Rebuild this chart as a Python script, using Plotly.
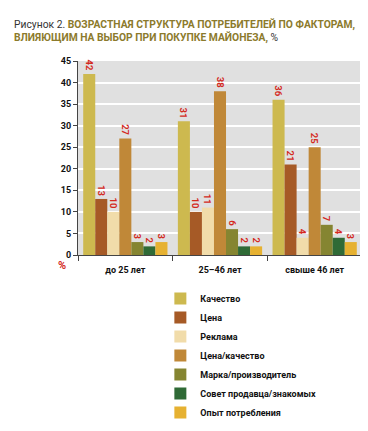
import plotly.graph_objects as go

categories = ["до 25 лет", "25–46 лет", "свыше 46 лет"]
factors = ["Качество", "Цена", "Реклама", "Цена/качество",
           "Марка/производитель", "Совет продавца/знакомых", "Опыт потребления"]
values = {
    "Качество": [42, 31, 36],
    "Цена": [13, 10, 21],
    "Реклама": [10, 11, 4],
    "Цена/качество": [27, 38, 25],
    "Марка/производитель": [3, 6, 7],
    "Совет продавца/знакомых": [2, 2, 4],
    "Опыт потребления": [3, 2, 3],
}
colors = ["#cdb94f", "#a65a26", "#f1dcaa", "#c08838", "#858531", "#2f6a36", "#e6b131"]
y_ticks = [0, 5, 10, 15, 20, 25, 30, 35, 40, 45]

FONT = "Roboto, Liberation Sans, sans-serif"

fig = go.Figure()
for f, c in zip(factors, colors):
    fig.add_trace(go.Bar(
        x=categories, y=values[f], name=f, marker_color=c, marker_line_width=0,
        text=[str(v) for v in values[f]], textposition="outside", textangle=90,
        textfont=dict(color="#d42a1e", size=9.5, family=FONT, weight="bold"),
        cliponaxis=False,
    ))

fig.update_layout(
    width=368, height=431,
    margin=dict(l=70, r=14, t=53, b=166),
    barmode="group", bargap=0.11, bargroupgap=0,
    plot_bgcolor="#e0e0e0", paper_bgcolor="white",
    font=dict(family=FONT, size=9, color="#111"),
    showlegend=True,
    legend=dict(x=0.29, y=-0.15, xanchor="left", yanchor="top",
                font=dict(size=9, family=FONT, weight="bold", color="#111"),
                tracegroupgap=0, itemwidth=30, bgcolor="rgba(0,0,0,0)"),
    uniformtext=dict(minsize=8, mode="show"),
)
fig.update_yaxes(range=[0, 45], tickvals=y_ticks, showgrid=True, gridcolor="white",
                 gridwidth=2, zeroline=False, showline=True, linecolor="#444",
                 linewidth=1, ticks="outside", ticklen=4, tickcolor="#444",
                 tickfont=dict(size=9, weight="bold", color="#111"))
fig.update_xaxes(showline=True, linecolor="#444", linewidth=1, ticks="outside",
                 tickson="boundaries", ticklen=5, tickcolor="#444",
                 ticklabelstandoff=6,
                 tickfont=dict(size=9, weight="bold", color="#111"))

fig.add_annotation(
    xref="paper", yref="paper", x=-66/284, y=1 + 49/212, xanchor="left", yanchor="top",
    align="left", showarrow=False,
    text=("<span style='color:#333'>Рисунок 2. </span>"
          "<b><span style='color:#8c7a2c'>ВОЗРАСТНАЯ СТРУКТУРА ПОТРЕБИТЕЛЕЙ ПО ФАКТОРАМ,<br>"
          "ВЛИЯЮЩИМ НА ВЫБОР ПРИ ПОКУПКЕ МАЙОНЕЗА, </span></b>"
          "<span style='color:#333'>%</span>"),
    font=dict(size=10.3, family=FONT),
)
fig.add_annotation(
    xref="paper", yref="paper", x=-16/284, y=-11/212, xanchor="center", yanchor="middle",
    showarrow=False, text="<b>%</b>", font=dict(size=11, color="#d42a1e", family=FONT),
)

fig.write_html("out.html")
